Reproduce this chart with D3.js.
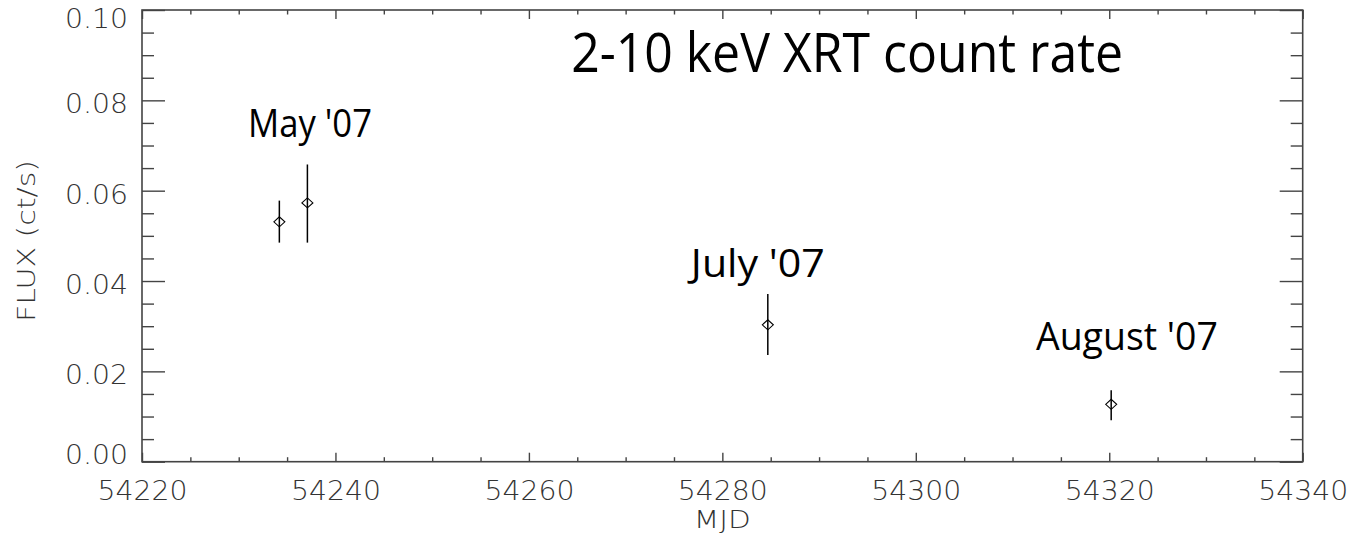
<!DOCTYPE html>
<html>
<head>
<meta charset="utf-8">
<script src="https://cdn.jsdelivr.net/npm/d3@7"></script>
<style>
  html, body { margin: 0; padding: 0; background: #fff; }
  svg { display: block; }
  .tick-label { font-family: "DejaVu Sans", "Liberation Sans", sans-serif; font-weight: 200; fill: #333; }
  .note { font-family: "Open Sans", "Noto Sans", sans-serif; fill: #000; }
</style>
</head>
<body>
<svg id="chart" width="1353" height="536"></svg>
<script>
// Swift XRT 2-10 keV light curve
const mjd      = [54234.2, 54237.1, 54284.7, 54320.2];
const flux     = [0.0531, 0.0573, 0.0303, 0.0127];
const fluxLo   = [0.0485, 0.0485, 0.0236, 0.0092];
const fluxHi   = [0.0578, 0.0658, 0.0371, 0.0158];

const xMajorTicks = [54220, 54240, 54260, 54280, 54300, 54320, 54340];
const yMajorTicks = [0.00, 0.02, 0.04, 0.06, 0.08, 0.10];
const yTickLabels = ["0.00", "0.02", "0.04", "0.06", "0.08", "0.10"];

const epochLabels = ["May '07", "July '07", "August '07"];
const titleText   = "2-10 keV XRT count rate";
const xTitle = "MJD";
const yTitle = "FLUX (ct/s)";

const W = 1353, H = 536;
const plotL = 142, plotT = 10, plotR = 1302.7, plotB = 461.7;

const x = d3.scaleLinear().domain([54220, 54340]).range([plotL, plotR]);
const y = d3.scaleLinear().domain([0, 0.10]).range([plotB, plotT]);

const xMinor = d3.range(54220, 54340.1, 5).filter(v => v % 20 !== 0);
const yMinor = d3.range(0, 0.1001, 0.005).filter((v, i) => i % 4 !== 0);

const svg = d3.select("#chart");
const axisColor = "#444";

function styleAxis(g) {
  g.select(".domain").remove();
  g.selectAll(".tick line").attr("stroke", axisColor).attr("stroke-width", 1.4);
}

// bottom axis with labels
svg.append("g").attr("transform", `translate(0,${plotB})`)
  .call(d3.axisBottom(x).tickValues(xMajorTicks).tickSize(-9).tickPadding(20).tickFormat(d3.format("d")))
  .call(styleAxis)
  .call(g => g.selectAll("text").attr("class", "tick-label").attr("font-size", 26)
    .attr("textLength", 90).attr("lengthAdjust", "spacingAndGlyphs"));
svg.append("g").attr("transform", `translate(0,${plotB})`)
  .call(d3.axisBottom(x).tickValues(xMinor).tickSize(-4.5).tickFormat(""))
  .call(styleAxis);

// top axis (ticks only)
svg.append("g").attr("transform", `translate(0,${plotT})`)
  .call(d3.axisTop(x).tickValues(xMajorTicks).tickSize(-9).tickFormat(""))
  .call(styleAxis);
svg.append("g").attr("transform", `translate(0,${plotT})`)
  .call(d3.axisTop(x).tickValues(xMinor).tickSize(-4.5).tickFormat(""))
  .call(styleAxis);

// left axis with labels
svg.append("g").attr("transform", `translate(${plotL},0)`)
  .call(d3.axisLeft(y).tickValues(yMajorTicks).tickSize(-23).tickPadding(14)
    .tickFormat((d, i) => yTickLabels[i]))
  .call(styleAxis)
  .call(g => g.selectAll("text").attr("class", "tick-label").attr("font-size", 26)
    .attr("textLength", 63).attr("lengthAdjust", "spacingAndGlyphs")
    .attr("dy", null)
    .attr("y", d => {
      const c = Math.max(plotT + 8.3, Math.min(plotB - 7.7, y(d) + 3));
      return c - y(d) + 9.5;
    }));
svg.append("g").attr("transform", `translate(${plotL},0)`)
  .call(d3.axisLeft(y).tickValues(yMinor).tickSize(-12).tickFormat(""))
  .call(styleAxis);

// right axis (ticks only)
svg.append("g").attr("transform", `translate(${plotR},0)`)
  .call(d3.axisRight(y).tickValues(yMajorTicks).tickSize(-23).tickFormat(""))
  .call(styleAxis);
svg.append("g").attr("transform", `translate(${plotR},0)`)
  .call(d3.axisRight(y).tickValues(yMinor).tickSize(-12).tickFormat(""))
  .call(styleAxis);

// plot frame
svg.append("rect")
  .attr("x", plotL).attr("y", plotT)
  .attr("width", plotR - plotL).attr("height", plotB - plotT)
  .attr("fill", "none").attr("stroke", axisColor).attr("stroke-width", 1.6);

// axis titles
svg.append("text").attr("class", "tick-label")
  .attr("x", (plotL + plotR) / 2).attr("y", 528)
  .attr("text-anchor", "middle").attr("font-size", 24)
  .attr("textLength", 57).attr("lengthAdjust", "spacingAndGlyphs")
  .text(xTitle);
svg.append("text").attr("class", "tick-label")
  .attr("transform", `translate(35,${241}) rotate(-90)`)
  .attr("text-anchor", "middle").attr("font-size", 24)
  .attr("textLength", 162).attr("lengthAdjust", "spacingAndGlyphs")
  .text(yTitle);

// data points: error bars and diamond symbols
const pts = mjd.map((m, i) => ({ m, f: flux[i], lo: fluxLo[i], hi: fluxHi[i] }));
const gp = svg.append("g");
gp.selectAll("line.err").data(pts).join("line")
  .attr("class", "err")
  .attr("x1", d => x(d.m)).attr("x2", d => x(d.m))
  .attr("y1", d => y(d.lo)).attr("y2", d => y(d.hi))
  .attr("stroke", "#000").attr("stroke-width", 1.5);
gp.selectAll("path.sym").data(pts).join("path")
  .attr("class", "sym")
  .attr("d", d => {
    const cx = x(d.m), cy = y(d.f), a = 5.5, b = 5;
    return `M${cx - a},${cy}L${cx},${cy - b}L${cx + a},${cy}L${cx},${cy + b}Z`;
  })
  .attr("fill", "none").attr("stroke", "#000").attr("stroke-width", 1.1);

// annotations placed in data coordinates
const notes = [
  { t: epochLabels[0], m: 54237.37, f: 0.0719, w: 124, s: 38 },
  { t: epochLabels[1], m: 54283.67, f: 0.0410, w: 134, s: 39 },
  { t: epochLabels[2], m: 54321.83, f: 0.0247, w: 182, s: 39 },
  { t: titleText,      m: 54292.9,  f: 0.0863, w: 552, s: 54 }
];
svg.selectAll("text.note").data(notes).join("text")
  .attr("class", "note")
  .attr("x", d => x(d.m)).attr("y", d => y(d.f))
  .attr("text-anchor", "middle")
  .attr("font-size", d => d.s)
  .attr("textLength", d => d.w).attr("lengthAdjust", "spacingAndGlyphs")
  .text(d => d.t);
</script>
</body>
</html>
